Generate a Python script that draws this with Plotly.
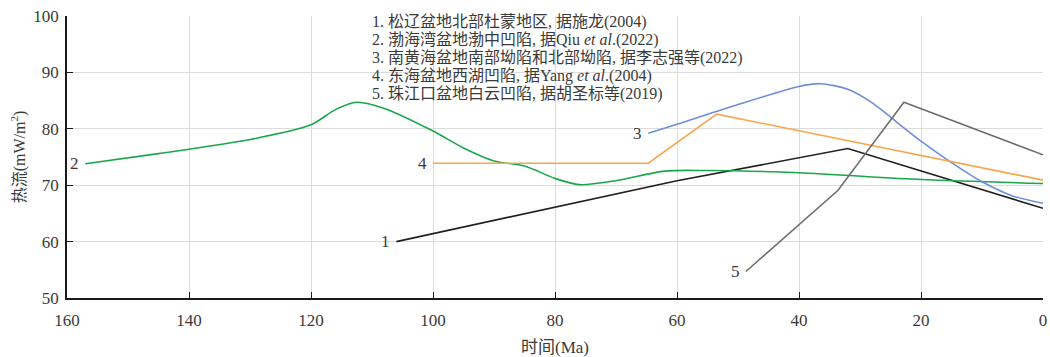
import plotly.graph_objects as go

# Heat-flow histories (time in Ma, heat flow in mW/m^2)
t1 = [106, 60, 32, 0]
q1 = [60.0, 70.8, 76.5, 65.9]

t2 = [157, 145, 130, 120, 116, 112.5, 108, 100, 95, 90, 85, 80, 76, 70, 62, 55, 40, 20, 0]
q2 = [73.8, 75.6, 78.1, 80.7, 83.4, 84.7, 83.6, 79.6, 76.6, 74.3, 73.4, 71.2, 70.1, 70.8, 72.5, 72.6, 72.2, 71.0, 70.3]

t3 = [64.7, 60, 50, 40, 36.5, 32, 28, 24, 20, 15, 10, 5, 0]
q3 = [79.2, 80.8, 84.3, 87.5, 88.0, 87.0, 84.6, 81.2, 77.8, 74.0, 70.6, 68.1, 66.8]

t4 = [100, 64.7, 53.5, 0]
q4 = [73.9, 73.9, 82.6, 70.9]

t5 = [48.7, 33.6, 22.8, 0]
q5 = [54.7, 69.1, 84.7, 75.4]

curve_ids = ["1", "2", "3", "4", "5"]
sources = [
    "1. 松辽盆地北部杜蒙地区, 据施龙(2004)",
    "2. 渤海湾盆地渤中凹陷, 据Qiu <i>et al</i>.(2022)",
    "3. 南黄海盆地南部坳陷和北部坳陷, 据李志强等(2022)",
    "4. 东海盆地西湖凹陷, 据Yang <i>et al</i>.(2004)",
    "5. 珠江口盆地白云凹陷, 据胡圣标等(2019)",
]

x_ticks = [160, 140, 120, 100, 80, 60, 40, 20, 0]
y_ticks = [50, 60, 70, 80, 90, 100]

FONT = "Liberation Serif, Noto Sans CJK SC, serif"
TXT = "#3a3a3a"

series = [
    (t1, q1, "#231f20", "linear"),
    (t2, q2, "#1aa64a", "spline"),
    (t3, q3, "#6d8fd8", "spline"),
    (t4, q4, "#f8a54c", "linear"),
    (t5, q5, "#6e6e6e", "linear"),
]

fig = go.Figure()
for cid, (t, q, color, shape) in zip(curve_ids, series):
    fig.add_trace(go.Scatter(
        x=t, y=q, mode="lines", name=cid,
        line=dict(color=color, width=1.6, shape=shape, smoothing=0.8),
        showlegend=False,
    ))
    fig.add_annotation(
        x=t[0], y=q[0], text=cid, showarrow=False,
        xanchor="right", yanchor="middle", xshift=-4,
        font=dict(family=FONT, size=17, color=TXT),
    )

# Source list in the upper part of the plot
for i, s in enumerate(sources):
    fig.add_annotation(
        x=110.3, y=99.0 - i * 3.2, text=s, showarrow=False,
        xanchor="left", yanchor="middle",
        font=dict(family=FONT, size=16, color=TXT),
    )

fig.update_xaxes(
    range=[160, 0], tickvals=x_ticks, ticktext=[str(v) for v in x_ticks],
    showgrid=True, gridcolor="#dcdcdc", gridwidth=1,
    showline=True, linecolor="#1a1a1a", linewidth=1.5,
    ticks="inside", ticklen=6, tickcolor="#1a1a1a",
    zeroline=False, ticklabelstandoff=6, automargin=False,
    tickfont=dict(family=FONT, size=17, color=TXT),
    title=dict(text="时间(Ma)", font=dict(family=FONT, size=17, color=TXT), standoff=12),
)
fig.update_yaxes(
    range=[50, 100], tickvals=y_ticks,
    showgrid=True, gridcolor="#dcdcdc", gridwidth=1,
    showline=True, linecolor="#1a1a1a", linewidth=1.5,
    ticks="inside", ticklen=6, tickcolor="#1a1a1a",
    zeroline=False, ticklabelstandoff=3, automargin=False,
    tickfont=dict(family=FONT, size=17, color=TXT),
    title=dict(text="热流(mW/m<sup>2</sup>)", font=dict(family=FONT, size=16, color=TXT), standoff=4),
)

fig.update_layout(
    width=1050, height=357,
    margin=dict(l=67, r=7, t=16, b=59),
    plot_bgcolor="white", paper_bgcolor="white",
)

fig.write_html("out.html")
